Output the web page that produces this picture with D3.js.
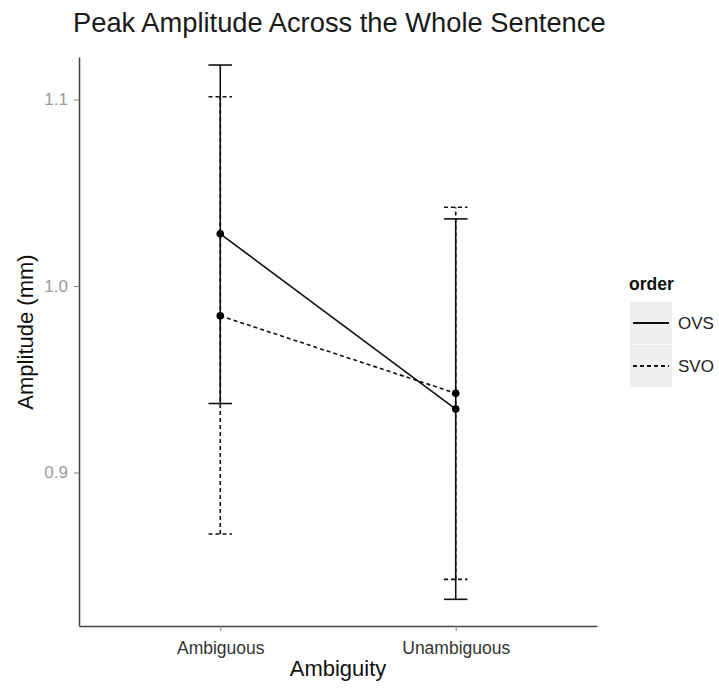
<!DOCTYPE html>
<html>
<head>
<meta charset="utf-8">
<script src="https://cdn.jsdelivr.net/npm/d3@7"></script>
<style>
  body { margin: 0; background: #fff; }
  svg { font-family: "Liberation Sans", Arial, Helvetica, sans-serif; }
</style>
</head>
<body>
<svg id="chart" width="719" height="688"></svg>
<script>
// data
var categories = ["Ambiguous", "Unambiguous"];
var orders = ["OVS", "SVO"];
var ovsMean = [1.028, 0.934],
    ovsLow  = [0.937, 0.832],
    ovsHigh = [1.1185, 1.036];
var svoMean = [0.984, 0.9425],
    svoLow  = [0.867, 0.8427],
    svoHigh = [1.1015, 1.0422];
var yTicks = [0.9, 1.0, 1.1];

var series = [
  {key: orders[0], mean: ovsMean, low: ovsLow, high: ovsHigh, dash: null},
  {key: orders[1], mean: svoMean, low: svoLow, high: svoHigh, dash: "4,3"}
];

var svg = d3.select("#chart"),
    plot = {left: 79, right: 597, top: 57, bottom: 626};

var x = d3.scalePoint()
    .domain(categories)
    .range([plot.left, plot.right])
    .padding(0.6);
var y = d3.scaleLinear()
    .domain([0.8177, 1.1228])
    .range([plot.bottom, plot.top]);
var capHalf = x.step() * 0.05;

// title
svg.append("text")
    .attr("x", 73)
    .attr("y", 32)
    .attr("fill", "#1a1a1a")
    .style("font-size", "27.3px")
    .text("Peak Amplitude Across the Whole Sentence");

// error bars, lines, points
var g = svg.append("g");
series.forEach(function(s) {
  var rows = categories.map(function(c, i) {
    return {cat: c, mean: s.mean[i], low: s.low[i], high: s.high[i]};
  });
  var sg = g.append("g")
      .attr("class", "serie")
      .attr("stroke", "#111")
      .attr("stroke-width", 1.6)
      .attr("stroke-dasharray", s.dash);
  sg.selectAll(".bar")
    .data(rows)
    .enter().append("line")
      .attr("class", "bar")
      .attr("x1", function(d) { return x(d.cat); })
      .attr("x2", function(d) { return x(d.cat); })
      .attr("y1", function(d) { return y(d.low); })
      .attr("y2", function(d) { return y(d.high); });
  ["low", "high"].forEach(function(k) {
    sg.selectAll(".cap-" + k)
      .data(rows)
      .enter().append("line")
        .attr("class", "cap-" + k)
        .attr("x1", function(d) { return x(d.cat) - capHalf; })
        .attr("x2", function(d) { return x(d.cat) + capHalf; })
        .attr("y1", function(d) { return y(d[k]); })
        .attr("y2", function(d) { return y(d[k]); });
  });
  sg.append("path")
      .datum(rows)
      .attr("fill", "none")
      .attr("d", d3.line()
        .x(function(d) { return x(d.cat); })
        .y(function(d) { return y(d.mean); }));
  g.selectAll(".pt-" + s.key)
    .data(rows)
    .enter().append("circle")
      .attr("class", "pt-" + s.key)
      .attr("cx", function(d) { return x(d.cat); })
      .attr("cy", function(d) { return y(d.mean); })
      .attr("r", 3.8)
      .attr("fill", "#000");
});

// axes
var xAxis = svg.append("g")
    .attr("transform", "translate(0," + plot.bottom + ")")
    .call(d3.axisBottom(x).tickSize(5).tickSizeOuter(0).tickPadding(11));
xAxis.selectAll("text")
    .attr("fill", "#333")
    .style("font-size", "17.5px");

var yAxis = svg.append("g")
    .attr("transform", "translate(" + plot.left + ",0)")
    .call(d3.axisLeft(y).tickValues(yTicks).tickFormat(d3.format(".1f"))
      .tickSize(5).tickSizeOuter(0).tickPadding(6));
yAxis.selectAll("text")
    .attr("fill", "#9a9a9a")
    .style("font-size", "17px");

svg.selectAll(".domain")
    .attr("stroke", "#444")
    .attr("stroke-width", 1.5);
svg.selectAll(".tick line")
    .attr("stroke", "#888")
    .attr("stroke-width", 1.1);

// axis titles
svg.append("text")
    .attr("x", 338)
    .attr("y", 676)
    .attr("text-anchor", "middle")
    .attr("fill", "#111")
    .style("font-size", "22px")
    .text("Ambiguity");
svg.append("text")
    .attr("transform", "translate(33,332) rotate(-90)")
    .attr("text-anchor", "middle")
    .attr("fill", "#111")
    .style("font-size", "22px")
    .text("Amplitude (mm)");

// legend
var legend = svg.append("g").attr("transform", "translate(630,0)");
legend.append("text")
    .attr("x", -1)
    .attr("y", 290)
    .attr("font-weight", "bold")
    .attr("fill", "#111")
    .style("font-size", "17.5px")
    .text("order");
var item = legend.selectAll(".legend")
    .data(series)
    .enter().append("g")
      .attr("class", "legend")
      .attr("transform", function(d, i) { return "translate(0," + (302 + i * 43) + ")"; });
item.append("rect")
    .attr("width", 42)
    .attr("height", 42)
    .attr("fill", "#efefef");
item.append("line")
    .attr("x1", 3)
    .attr("x2", 39)
    .attr("y1", 21)
    .attr("y2", 21)
    .attr("stroke", "#111")
    .attr("stroke-width", 2.2)
    .attr("stroke-dasharray", function(d) { return d.dash; });
item.append("text")
    .attr("x", 48)
    .attr("y", 21)
    .attr("dy", "0.35em")
    .attr("fill", "#222")
    .style("font-size", "17px")
    .text(function(d) { return d.key; });
</script>
</body>
</html>
